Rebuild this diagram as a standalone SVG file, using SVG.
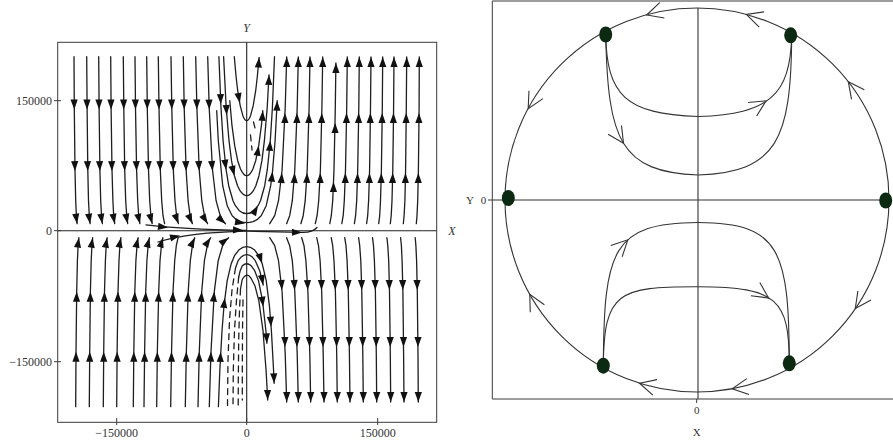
<svg xmlns="http://www.w3.org/2000/svg" xmlns:xlink="http://www.w3.org/1999/xlink" width="893" height="443" viewBox="0 0 893 443">
<style>
.f{fill:none;stroke:#3a3a3a;stroke-width:1}
.ax{fill:none;stroke:#222;stroke-width:1.1}
.s{fill:none;stroke:#1e1e1e;stroke-width:1.3;stroke-linejoin:round;stroke-linecap:round}
.d{stroke-dasharray:6 5}
.t{font-family:"Liberation Serif","Times New Roman",serif;font-size:12px;fill:#333}
.t2{font-family:"Liberation Serif","Times New Roman",serif;font-size:11px;fill:#333}
.it{font-style:italic}
.c{fill:none;stroke:#333;stroke-width:1.1}
.dot{fill:#0c2a12}
</style>
<defs>
<path id="ah" d="M0,0 L-10,-3.6 L-10,3.6 Z" fill="#111"/>
<path id="ch" d="M-16,-8 L0,0 L-16,8" fill="none" stroke="#333" stroke-width="1.1"/>
</defs>
<rect width="893" height="443" fill="#fff"/>

<g id="stream-plot">
<rect class="f" x="57.7" y="42.3" width="379" height="380"/>
<line class="ax" x1="246.7" y1="42.3" x2="246.7" y2="422.3"/>
<line class="ax" x1="57.7" y1="230.7" x2="436.7" y2="230.7"/>
<g class="f">
<line x1="54" y1="100.7" x2="61" y2="100.7"/><line x1="54" y1="230.7" x2="61" y2="230.7"/><line x1="54" y1="361.7" x2="61" y2="361.7"/>
<line x1="116.7" y1="418" x2="116.7" y2="425"/><line x1="246.7" y1="418" x2="246.7" y2="425"/><line x1="377.7" y1="418" x2="377.7" y2="425"/>
</g>
<text class="t" x="52" y="104.5" text-anchor="end">150000</text>
<text class="t" x="52" y="234.5" text-anchor="end">0</text>
<text class="t" x="52" y="365.5" text-anchor="end">−150000</text>
<text class="t" x="116.7" y="437" text-anchor="middle">−150000</text>
<text class="t" x="246.7" y="437" text-anchor="middle">0</text>
<text class="t" x="377.7" y="437" text-anchor="middle">150000</text>
<text class="t it" x="246.7" y="32" text-anchor="middle">Y</text>
<text class="t it" x="452" y="235" text-anchor="middle">X</text>

<g id="streamlines" class="s">
<path d="M74,56.7 L74.3,107.7 L75,169.7 L75.7,200.7 L76.4,215.7 L77.1,223.7"/>
<path d="M86.7,56.7 L87.1,107.7 L87.8,169.7 L88.5,200.7 L89.3,215.7 L90.1,223.7"/>
<path d="M98.7,56.7 L99.1,107.7 L99.9,169.7 L100.7,200.7 L101.5,215.7 L102.4,223.7"/>
<path d="M110.7,56.7 L111.1,107.7 L112,169.7 L112.9,200.7 L113.7,215.7 L114.7,223.7"/>
<path d="M123.3,56.7 L123.8,107.7 L124.7,169.7 L125.7,200.7 L126.7,215.7 L127.7,223.7"/>
<path d="M135,56.7 L135.5,107.7 L136.6,169.7 L137.7,200.7 L138.7,215.7 L139.9,223.7"/>
<path d="M146.7,56.7 L147.3,107.7 L148.5,169.7 L149.7,200.7 L150.9,215.7 L152.2,223.7"/>
<path d="M158.3,56.7 L159,107.7 L160.3,169.7 L161.7,200.7 L163,215.7 L164.6,223.7"/>
<path d="M171,56.7 L171.8,107.7 L173.3,169.7 L175,200.7 L176.6,215.7 L178.4,223.7"/>
<path d="M183.3,56.7 L184.2,107.7 L186.1,169.7 L188.1,200.7 L190.1,215.7 L192.4,223.7"/>
<path d="M195.7,56.7 L196.9,107.7 L199.2,169.7 L201.8,200.7 L204.5,215.7 L206.1,220.7 L207.6,223.7"/>
<path d="M207.7,56.7 L209.2,107.7 L212.5,169.7 L216.1,200.7 L220.2,215.7 L222.8,220.7 L225.5,223.7"/>

<path d="M269.7,223.7 L274.7,215.7 L278.5,200.7 L282.1,169.7 L285.2,107.7 L286.7,57"/>
<path d="M286.6,223.7 L289.7,215.7 L292.3,200.7 L294.8,169.7 L297.2,107.7 L298.3,57"/>
<path d="M300.9,223.7 L303.2,215.7 L305.2,200.7 L307.2,169.7 L309.1,107.7 L310,57"/>
<path d="M315.3,223.7 L317.1,215.7 L318.7,200.7 L320.4,169.7 L321.9,107.7 L322.7,57"/>
<path d="M329.8,223.7 L331.3,215.7 L332.7,200.7 L334,169.7 L335.3,107.7 L335.9,63"/>
<path d="M341.8,223.7 L343.2,215.7 L344.3,200.7 L345.5,169.7 L346.7,107.7 L347.3,57"/>
<path d="M354.4,223.7 L355.6,215.7 L356.7,200.7 L357.7,169.7 L358.8,107.7 L359.3,57"/>
<path d="M366.6,223.7 L367.7,215.7 L368.6,200.7 L369.6,169.7 L370.5,107.7 L371,57"/>
<path d="M378.7,223.7 L379.7,215.7 L380.5,200.7 L381.4,169.7 L382.3,107.7 L382.7,57"/>
<path d="M390.3,223.7 L391.2,215.7 L392,200.7 L392.8,169.7 L393.6,107.7 L394,57"/>
<path d="M403.3,223.7 L404.1,215.7 L404.9,200.7 L405.6,169.7 L406.3,107.7 L406.7,57"/>
<path d="M416.3,223.7 L417,215.7 L417.7,200.7 L418.4,169.7 L419.1,107.7 L419.3,57"/>

<path d="M75.7,406.7 L76,353.7 L76.7,291.7 L77.4,260.7 L78.1,245.7 L78.9,237.7"/>
<path d="M89.3,406.7 L89.7,353.7 L90.4,291.7 L91.2,260.7 L91.9,245.7 L92.7,237.7"/>
<path d="M103.3,406.7 L103.7,353.7 L104.5,291.7 L105.4,260.7 L106.2,245.7 L107.1,237.7"/>
<path d="M116.7,406.7 L117.1,353.7 L118,291.7 L119,260.7 L119.9,245.7 L120.9,237.7"/>
<path d="M133.3,406.7 L133.8,353.7 L134.8,291.7 L135.9,260.7 L137,245.7 L138.1,237.7"/>
<path d="M144,406.7 L144.6,353.7 L145.7,291.7 L146.9,260.7 L148.1,245.7 L149.4,237.7"/>
<path d="M156.7,406.7 L157.3,353.7 L158.7,291.7 L160,260.7 L161.4,245.7 L162.9,237.7"/>
<path d="M170.7,406.7 L171.5,353.7 L173,291.7 L174.7,260.7 L176.3,245.7 L178.1,237.7"/>
<path d="M185.3,406.7 L186.3,353.7 L188.2,291.7 L190.3,260.7 L192.4,245.7 L194.7,237.7"/>
<path d="M198,406.7 L199.2,353.7 L201.7,291.7 L204.4,260.7 L207.3,245.7 L209,240.7 L210.6,237.7"/>
<path d="M209.3,406.7 L210.9,353.7 L214.3,291.7 L218.2,260.7 L222.6,245.7 L225.5,240.7 L228.6,237.7"/>

<path d="M269.7,237.7 L274.7,245.7 L278.5,260.7 L282.1,291.7 L285.2,353.7 L286.7,402"/>
<path d="M286.6,237.7 L289.7,245.7 L292.3,260.7 L294.8,291.7 L297.2,353.7 L298.3,402"/>
<path d="M301.7,237.7 L304,245.7 L305.9,260.7 L307.9,291.7 L309.8,353.7 L310.7,402"/>
<path d="M316.7,237.7 L318.5,245.7 L320.1,260.7 L321.7,291.7 L323.2,353.7 L324,402"/>
<path d="M331.2,237.7 L332.7,245.7 L334,260.7 L335.4,291.7 L336.7,353.7 L337.3,402"/>
<path d="M344.7,237.7 L346,245.7 L347.1,260.7 L348.3,291.7 L349.4,353.7 L350,402"/>
<path d="M358.6,237.7 L359.7,245.7 L360.8,260.7 L361.8,291.7 L362.8,353.7 L363.3,402"/>
<path d="M372.5,237.7 L373.5,245.7 L374.4,260.7 L375.4,291.7 L376.3,353.7 L376.7,402"/>
<path d="M386.9,237.7 L387.8,245.7 L388.7,260.7 L389.5,291.7 L390.3,353.7 L390.7,402"/>
<path d="M400.6,237.7 L401.4,245.7 L402.1,260.7 L402.9,291.7 L403.6,353.7 L404,402"/>
<path d="M415.2,237.7 L415.9,245.7 L416.6,260.7 L417.3,291.7 L418,353.7 L418.3,402"/>

<path d="M218.9,56.7 L221,107.7 L223.1,140.7 L226.1,169.7 L228.7,185.7 L233,200.7 L235.4,205.7 L239.3,210.7 Q246.7,216.7 254.1,210.7 L258,205.7 L260.5,200.7 L264.7,185.7 L267.3,169.7 L270.3,140.7 L272.4,107.7 L274.5,56.7"/>
<path d="M223.6,56.7 L226.2,107.7 L229,140.7 L231.5,160.7 L234.4,175.7 L237.55,185.7 L240,190.7 Q246.7,200.7 253.4,190.7 L255.85,185.7 L259,175.7 L261.9,160.7 L264.4,140.7 L267.2,107.7 L269,75"/>
<path d="M229.8,100.7 L232,125.7 L234.7,145.7 L237.7,160.7 L240.4,168.7 Q246.7,182.7 253,168.7 L255.7,160.7 L258.7,145.7 L261.4,125.7 L262.8,110.7"/>
<path d="M216.7,110.7 L218.3,140.7 L222.7,185.7 L227.2,205.7 L232.2,215.7 L236.4,219.7 L240.4,221.7 Q246.7,223.7 253,221.7 L257,219.7 L261.2,215.7 L266.2,205.7 L270.7,185.7 L272.5,171.7 L275.1,140.7 L277.2,100.7"/>
<path d="M234.3,56.7 L236,75.7 L237.7,90.7 L240.2,105.7 L242.85,115.7 Q246.7,125.7 250.55,115.7 L253.2,105.7 L255.7,90.7 L257.4,75.7 L259.1,57.5"/>
<path class="d" d="M250.5,135 L252,150 M253.5,122 L255,128"/>

<path d="M218.4,406.7 L219.8,370.7 L222,330.7 L224,305.7 L227.2,280.7 L231.2,263.7 L234.5,255.7 L239.1,249.7 Q246.7,243.7 254.3,249.7 L258.9,255.7 L262.2,263.7 L266.2,280.7 L269.4,305.7 L271.4,330.7 L273.6,370.7 L274.1,383.3"/>
<path class="d" d="M235.5,268 L232,290 L229.5,320 L228,360 L227.5,406.7"/>
<path d="M235.5,268 L238.1,260.7 L241.5,256.7 Q246.7,252.7 251.9,256.7 L255.3,260.7 L259.7,270.7 L263.2,285"/>
<path class="d" d="M238.7,277 L236.5,300 L234.5,330 L233.3,370 L233,406.7"/>
<path d="M238.7,277 L240.2,270.7 L242.3,265.7 Q246.7,261.7 251.1,265.7 L254.7,270.7 L258.5,280.7 L262.5,300.7 L265.9,330.7 L266.9,343.3"/>
<path class="d" d="M240.5,289 L239.5,310 L238.7,340 L238.3,380 L238.2,406.7"/>
<path d="M240.5,289 L242.1,280 Q246.7,271 251.3,278.7 L254.9,285.7 L258.8,300.7 L263,330.7 L266.1,370.7 L267.7,400"/>
<path class="d" d="M243,300 L242.5,330 L242.3,370 L242.3,400"/>

<path d="M146,224.8 C175,228.5 215,229.8 246,230.3"/>
<path d="M158,242 C178,236 210,232 246,231.2"/>
<path d="M247,231.2 L302,232.4 C310,232.6 314,231 317,227.5"/>
</g>

<g id="stream-arrows">
<use href="#ah" transform="translate(74.3,109.5) rotate(89)"/>
<use href="#ah" transform="translate(87.1,109.5) rotate(89)"/>
<use href="#ah" transform="translate(99.1,109.5) rotate(89)"/>
<use href="#ah" transform="translate(111.1,109.5) rotate(89)"/>
<use href="#ah" transform="translate(123.8,109.5) rotate(89)"/>
<use href="#ah" transform="translate(135.5,109.5) rotate(89)"/>
<use href="#ah" transform="translate(147.3,109.5) rotate(89)"/>
<use href="#ah" transform="translate(159,109.5) rotate(89)"/>
<use href="#ah" transform="translate(171.8,109.5) rotate(89)"/>
<use href="#ah" transform="translate(184.2,109.5) rotate(89)"/>
<use href="#ah" transform="translate(196.9,109.5) rotate(89)"/>
<use href="#ah" transform="translate(209.3,109.5) rotate(88)"/>
<use href="#ah" transform="translate(75,171) rotate(88)"/>
<use href="#ah" transform="translate(87.8,171) rotate(88)"/>
<use href="#ah" transform="translate(99.9,171) rotate(88)"/>
<use href="#ah" transform="translate(112,171) rotate(88)"/>
<use href="#ah" transform="translate(124.7,171) rotate(88)"/>
<use href="#ah" transform="translate(136.6,171) rotate(88)"/>
<use href="#ah" transform="translate(148.5,171) rotate(88)"/>
<use href="#ah" transform="translate(160.3,171) rotate(88)"/>
<use href="#ah" transform="translate(173.3,171) rotate(88)"/>
<use href="#ah" transform="translate(186.1,171) rotate(88)"/>
<use href="#ah" transform="translate(199.2,171) rotate(87)"/>
<use href="#ah" transform="translate(212.5,171) rotate(85)"/>
<use href="#ah" transform="translate(77.1,223.7) rotate(82)"/>
<use href="#ah" transform="translate(90.1,223.7) rotate(81.4)"/>
<use href="#ah" transform="translate(102.4,223.7) rotate(80.6)"/>
<use href="#ah" transform="translate(114.7,223.7) rotate(79.8)"/>
<use href="#ah" transform="translate(127.7,223.7) rotate(78.7)"/>
<use href="#ah" transform="translate(139.9,223.7) rotate(77.4)"/>
<use href="#ah" transform="translate(152.2,223.7) rotate(75.9)"/>
<use href="#ah" transform="translate(178.4,223.7) rotate(70.8)"/>
<use href="#ah" transform="translate(192.4,223.7) rotate(66.3)"/>
<use href="#ah" transform="translate(207.6,223.7) rotate(58.7)"/>
<use href="#ah" transform="translate(225.5,223.7) rotate(41.8)"/>

<use href="#ah" transform="translate(286.7,57) rotate(-90)"/>
<use href="#ah" transform="translate(298.3,57) rotate(-90)"/>
<use href="#ah" transform="translate(310,57) rotate(-90)"/>
<use href="#ah" transform="translate(322.7,57) rotate(-90)"/>
<use href="#ah" transform="translate(335.9,63) rotate(-90)"/>
<use href="#ah" transform="translate(347.3,57) rotate(-90)"/>
<use href="#ah" transform="translate(359.3,57) rotate(-90)"/>
<use href="#ah" transform="translate(371,57) rotate(-90)"/>
<use href="#ah" transform="translate(382.7,57) rotate(-90)"/>
<use href="#ah" transform="translate(394,57) rotate(-90)"/>
<use href="#ah" transform="translate(406.7,57) rotate(-90)"/>
<use href="#ah" transform="translate(419.3,57) rotate(-90)"/>
<use href="#ah" transform="translate(285,113) rotate(-89)"/>
<use href="#ah" transform="translate(297,113) rotate(-89)"/>
<use href="#ah" transform="translate(309,113) rotate(-89)"/>
<use href="#ah" transform="translate(321.8,113) rotate(-89)"/>
<use href="#ah" transform="translate(335.2,123) rotate(-89)"/>
<use href="#ah" transform="translate(346.6,113) rotate(-89)"/>
<use href="#ah" transform="translate(358.7,113) rotate(-89)"/>
<use href="#ah" transform="translate(370.4,113) rotate(-89)"/>
<use href="#ah" transform="translate(382.2,113) rotate(-89)"/>
<use href="#ah" transform="translate(393.5,113) rotate(-89)"/>
<use href="#ah" transform="translate(406.2,113) rotate(-89)"/>
<use href="#ah" transform="translate(419,113) rotate(-89)"/>
<use href="#ah" transform="translate(282,173) rotate(-85)"/>
<use href="#ah" transform="translate(294.7,173) rotate(-87)"/>
<use href="#ah" transform="translate(307.1,173) rotate(-88)"/>
<use href="#ah" transform="translate(320.3,173) rotate(-89)"/>
<use href="#ah" transform="translate(333.6,182) rotate(-89)"/>
<use href="#ah" transform="translate(345.4,173) rotate(-89)"/>
<use href="#ah" transform="translate(357.6,173) rotate(-89)"/>
<use href="#ah" transform="translate(369.5,173) rotate(-89)"/>
<use href="#ah" transform="translate(381.3,173) rotate(-89)"/>
<use href="#ah" transform="translate(392.7,173) rotate(-89)"/>
<use href="#ah" transform="translate(405.5,173) rotate(-89)"/>
<use href="#ah" transform="translate(418.4,173) rotate(-89)"/>

<use href="#ah" transform="translate(76,351.7) rotate(-90)"/>
<use href="#ah" transform="translate(89.7,351.7) rotate(-90)"/>
<use href="#ah" transform="translate(103.7,351.7) rotate(-90)"/>
<use href="#ah" transform="translate(117.1,351.7) rotate(-90)"/>
<use href="#ah" transform="translate(133.8,351.7) rotate(-90)"/>
<use href="#ah" transform="translate(144.6,351.7) rotate(-90)"/>
<use href="#ah" transform="translate(157.3,351.7) rotate(-90)"/>
<use href="#ah" transform="translate(171.5,351.7) rotate(-90)"/>
<use href="#ah" transform="translate(186.3,351.7) rotate(-89)"/>
<use href="#ah" transform="translate(199.2,351.7) rotate(-89)"/>
<use href="#ah" transform="translate(211,351.7) rotate(-88)"/>
<use href="#ah" transform="translate(76.7,291.7) rotate(-89)"/>
<use href="#ah" transform="translate(90.4,291.7) rotate(-89)"/>
<use href="#ah" transform="translate(104.5,291.7) rotate(-89)"/>
<use href="#ah" transform="translate(118,291.7) rotate(-89)"/>
<use href="#ah" transform="translate(134.8,291.7) rotate(-89)"/>
<use href="#ah" transform="translate(145.7,291.7) rotate(-89)"/>
<use href="#ah" transform="translate(158.7,291.7) rotate(-88)"/>
<use href="#ah" transform="translate(173,291.7) rotate(-88)"/>
<use href="#ah" transform="translate(188.2,291.7) rotate(-87)"/>
<use href="#ah" transform="translate(201.7,291.7) rotate(-86.5)"/>
<use href="#ah" transform="translate(214.3,291.7) rotate(-85)"/>
<use href="#ah" transform="translate(78.9,237.7) rotate(-81.9)"/>
<use href="#ah" transform="translate(92.7,237.7) rotate(-81.2)"/>
<use href="#ah" transform="translate(107.1,237.7) rotate(-80.3)"/>
<use href="#ah" transform="translate(120.9,237.7) rotate(-79.3)"/>
<use href="#ah" transform="translate(138.1,237.7) rotate(-77.6)"/>
<use href="#ah" transform="translate(149.4,237.7) rotate(-76.2)"/>
<use href="#ah" transform="translate(162.9,237.7) rotate(-74.1)"/>
<use href="#ah" transform="translate(194.7,237.7) rotate(-65.4)"/>
<use href="#ah" transform="translate(210.6,237.7) rotate(-56.6)"/>
<use href="#ah" transform="translate(228.6,237.7) rotate(-37.3)"/>

<use href="#ah" transform="translate(282,290) rotate(85.4)"/>
<use href="#ah" transform="translate(294.7,290) rotate(86.7)"/>
<use href="#ah" transform="translate(307.8,290) rotate(88)"/>
<use href="#ah" transform="translate(321.6,290) rotate(89)"/>
<use href="#ah" transform="translate(335.3,290) rotate(89)"/>
<use href="#ah" transform="translate(348.2,290) rotate(89)"/>
<use href="#ah" transform="translate(361.7,290) rotate(89)"/>
<use href="#ah" transform="translate(375.3,290) rotate(89)"/>
<use href="#ah" transform="translate(389.4,290) rotate(89)"/>
<use href="#ah" transform="translate(402.8,290) rotate(89)"/>
<use href="#ah" transform="translate(417.2,290) rotate(89)"/>
<use href="#ah" transform="translate(285,347) rotate(89)"/>
<use href="#ah" transform="translate(297,347) rotate(89)"/>
<use href="#ah" transform="translate(309.6,347) rotate(89)"/>
<use href="#ah" transform="translate(323,347) rotate(89)"/>
<use href="#ah" transform="translate(336.6,347) rotate(90)"/>
<use href="#ah" transform="translate(349.3,347) rotate(90)"/>
<use href="#ah" transform="translate(362.7,347) rotate(90)"/>
<use href="#ah" transform="translate(376.2,347) rotate(90)"/>
<use href="#ah" transform="translate(390.2,347) rotate(90)"/>
<use href="#ah" transform="translate(403.5,347) rotate(90)"/>
<use href="#ah" transform="translate(418,347) rotate(90)"/>
<use href="#ah" transform="translate(286.7,402) rotate(90)"/>
<use href="#ah" transform="translate(298.3,402) rotate(90)"/>
<use href="#ah" transform="translate(310.7,402) rotate(90)"/>
<use href="#ah" transform="translate(324,402) rotate(90)"/>
<use href="#ah" transform="translate(337.3,402) rotate(90)"/>
<use href="#ah" transform="translate(350,402) rotate(90)"/>
<use href="#ah" transform="translate(363.3,402) rotate(90)"/>
<use href="#ah" transform="translate(376.7,402) rotate(90)"/>
<use href="#ah" transform="translate(390.7,402) rotate(90)"/>
<use href="#ah" transform="translate(404,402) rotate(90)"/>
<use href="#ah" transform="translate(418.3,402) rotate(90)"/>

<use href="#ah" transform="translate(220.8,104) rotate(88)"/>
<use href="#ah" transform="translate(226.1,169.7) rotate(82.5)"/>
<use href="#ah" transform="translate(226.7,115) rotate(87)"/>
<use href="#ah" transform="translate(234.4,175.7) rotate(76)"/>
<use href="#ah" transform="translate(239.8,103) rotate(79.5)"/>
<use href="#ah" transform="translate(245,223.4) rotate(10)"/>
<use href="#ah" transform="translate(258,205.7) rotate(-59.5)"/>
<use href="#ah" transform="translate(270.3,140.7) rotate(-85.5)"/>
<use href="#ah" transform="translate(269,75) rotate(-88)"/>
<use href="#ah" transform="translate(258.7,145.7) rotate(-80.7)"/>
<use href="#ah" transform="translate(262.8,110.7) rotate(-86)"/>
<use href="#ah" transform="translate(272.5,171.7) rotate(-83.8)"/>
<use href="#ah" transform="translate(277.2,100.7) rotate(-88)"/>
<use href="#ah" transform="translate(259.1,57.5) rotate(-85.6)"/>

<use href="#ah" transform="translate(220.6,352) rotate(-88)"/>
<use href="#ah" transform="translate(224.8,298) rotate(-83.6)"/>
<use href="#ah" transform="translate(262.1,263.3) rotate(71.6)"/>
<use href="#ah" transform="translate(271.1,326.7) rotate(86)"/>
<use href="#ah" transform="translate(274.1,383.3) rotate(88)"/>
<use href="#ah" transform="translate(263.2,285) rotate(79.5)"/>
<use href="#ah" transform="translate(263.2,306.7) rotate(82.5)"/>
<use href="#ah" transform="translate(266.9,343.3) rotate(87)"/>
<use href="#ah" transform="translate(267.7,400) rotate(89)"/>

<use href="#ah" transform="translate(168,227.6) rotate(7)"/>
<use href="#ah" transform="translate(243,230.2) rotate(2)"/>
<use href="#ah" transform="translate(180,235.6) rotate(-14)"/>
<use href="#ah" transform="translate(302,232.4) rotate(1)"/>
</g>
</g>

<g id="phase-portrait">
<g class="f">
<line x1="492.3" y1="1" x2="893" y2="1"/>
<line x1="492.3" y1="399" x2="893" y2="399"/>
<line x1="492.3" y1="1" x2="492.3" y2="399"/>
<line x1="488" y1="200" x2="492.3" y2="200"/>
<line x1="696.7" y1="399" x2="696.7" y2="403"/>
</g>
<line class="c" x1="698" y1="8" x2="698" y2="399"/>
<line class="c" x1="492.3" y1="200" x2="888" y2="200"/>
<text class="t2" x="470" y="204" text-anchor="middle">Y</text>
<text class="t2" x="483.5" y="204" text-anchor="middle">0</text>
<text class="t2" x="696.7" y="414" text-anchor="middle">0</text>
<text class="t2" x="696.7" y="436" text-anchor="middle">X</text>

<g id="connectors">
<circle class="c" cx="697" cy="200" r="192"/>
<path class="c" d="M605.7,35 C607,95 625,114 698.3,116.5 C770,114 790,95 791.7,36"/>
<path class="c" d="M605.7,35 C608,140 620,172 698.3,175 C777,172 791,140 791.7,36"/>
<path class="c" d="M603.3,365.7 C604,250 612,223 698.3,222.5 C780,223 789,250 789.3,363.3"/>
<path class="c" d="M603.3,365.7 C604,292 618,286.5 698.3,286.7 C778,287 789,300 789.3,363.3"/>
<use href="#ch" transform="translate(766,100.8) rotate(-32)"/>
<use href="#ch" transform="translate(623.5,143.3) rotate(57)"/>
<use href="#ch" transform="translate(627.8,239.8) rotate(-45)"/>
<use href="#ch" transform="translate(768.6,298) rotate(34)"/>
<use href="#ch" transform="translate(646.7,15) rotate(163)"/>
<use href="#ch" transform="translate(746.4,14.5) rotate(198)"/>
<use href="#ch" transform="translate(528.2,108.7) rotate(119)"/>
<use href="#ch" transform="translate(529.8,294.4) rotate(242)"/>
<use href="#ch" transform="translate(848.3,81.7) rotate(233)"/>
<use href="#ch" transform="translate(855.3,308.5) rotate(125)"/>
<use href="#ch" transform="translate(639.5,383.2) rotate(195)"/>
<use href="#ch" transform="translate(732.1,388.8) rotate(172)"/>
</g>
<g id="node-top-left"><ellipse class="dot" cx="605.7" cy="34.5" rx="6.5" ry="8"/></g>
<g id="node-top-right"><ellipse class="dot" cx="790.7" cy="35.3" rx="6.5" ry="8"/></g>
<g id="node-left"><ellipse class="dot" cx="508.3" cy="198" rx="6.5" ry="8"/></g>
<g id="node-right"><ellipse class="dot" cx="885.7" cy="200.5" rx="6.5" ry="8"/></g>
<g id="node-bottom-left"><ellipse class="dot" cx="603.3" cy="365.7" rx="6.5" ry="8"/></g>
<g id="node-bottom-right"><ellipse class="dot" cx="789.3" cy="363.3" rx="6.5" ry="8"/></g>
</g>
</svg>
